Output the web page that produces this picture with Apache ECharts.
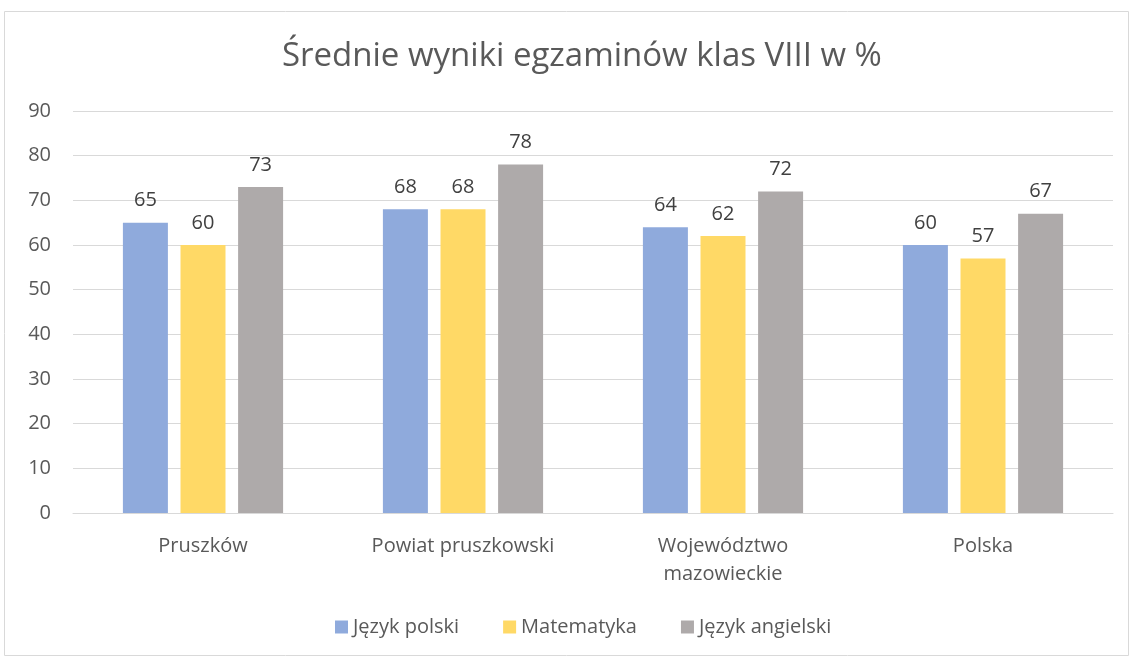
<!DOCTYPE html>
<html><head><meta charset="utf-8">
<script src="https://cdn.jsdelivr.net/npm/echarts@6/dist/echarts.min.js"></script>
<style>html,body{margin:0;padding:0;background:#fff}#c{width:1130px;height:657px}</style>
</head><body><div id="c"></div>
<script>
const categories = ['Pruszków', 'Powiat pruszkowski', 'Województwo\nmazowieckie', 'Polska'];
const seriesNames = ['Język polski', 'Matematyka', 'Język angielski'];
const polski = [65, 68, 64, 60];
const matematyka = [60, 68, 62, 57];
const angielski = [73, 78, 72, 67];
const yTicks = [0, 90, 10];
const colors = ['#8faadc', '#ffd966', '#aeaaaa'];
const font = '"Open Sans", "Liberation Sans", sans-serif';
const values = [polski, matematyka, angielski];
const chart = echarts.init(document.getElementById('c'));
chart.setOption({
  animation: false,
  textStyle: {fontFamily: font},
  graphic: [{type: 'rect', shape: {x: 4.5, y: 11.5, width: 1124, height: 644}, style: {fill: 'none', stroke: '#d9d9d9', lineWidth: 1}}],
  title: {text: 'Średnie wyniki egzaminów klas VIII w %', left: 277, top: 35,
    textStyle: {fontFamily: font, fontSize: 33, fontWeight: 'normal', color: '#595959'}},
  legend: {bottom: 15, left: 330, itemWidth: 13, itemHeight: 13, itemGap: 44, icon: 'rect',
    textStyle: {fontFamily: font, fontSize: 20, color: '#595959'}, data: seriesNames},
  grid: {left: 73, right: 17, top: 111, bottom: 144},
  xAxis: {type: 'category', data: categories,
    axisLine: {lineStyle: {color: '#d9d9d9'}}, axisTick: {show: false},
    axisLabel: {fontFamily: font, fontSize: 20, color: '#595959', margin: 19, lineHeight: 28}},
  yAxis: {type: 'value', min: yTicks[0], max: yTicks[1], interval: yTicks[2],
    axisLine: {show: false}, axisTick: {show: false},
    splitLine: {lineStyle: {color: '#d9d9d9'}},
    axisLabel: {fontFamily: font, fontSize: 20, color: '#595959', margin: 22}},
  series: seriesNames.map((n, i) => ({
    name: n, type: 'bar', data: values[i], barWidth: 45, barGap: '28%',
    itemStyle: {color: colors[i]},
    label: {show: true, position: 'top', distance: 12, fontFamily: font, fontSize: 20, color: '#404040'}
  }))
});
</script></body></html>
